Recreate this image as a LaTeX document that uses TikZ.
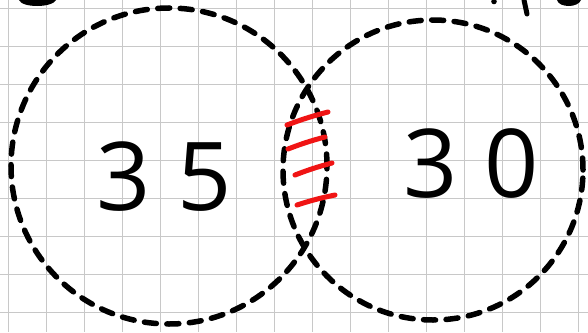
\documentclass[tikz,border=0pt]{standalone}
\usepackage{fontspec}
\usetikzlibrary{positioning}
\newfontfamily\handfont[LetterSpace=28]{Open Sans}
\definecolor{GridGray}{HTML}{C8C8C8}
\definecolor{HatchRed}{HTML}{F01414}
\tikzset{
  gridline/.style={draw=GridGray, line width=1.3pt},
  ring/.style={draw=black, circle, inner sep=0pt, line width=5.5pt, line cap=round, dash pattern=on 12pt off 10.5pt},
  numeral/.style={font=\handfont\fontsize{95}{95}\selectfont, inner sep=0pt},
  hatchline/.style={draw=HatchRed, line width=5pt, line cap=round},
  scrap/.style={fill=black}
}

\begin{document}
\begin{tikzpicture}[x=1pt, y=-1pt]
  \useasboundingbox (0,0) rectangle (588,332);
  \fill[white] (0,0) rectangle (588,332);
  % squared paper
  \foreach \k in {0,...,15}
    \draw[gridline] (8.3+38*\k,0) -- (8.3+38*\k,332);
  \foreach \k in {0,...,8}
    \draw[gridline] (0,8.5+38*\k) -- (588,8.5+38*\k);
  % the two sets
  \node[ring, minimum size=316pt] (setA) at (169,166) {};
  \node[ring, minimum size=300pt] (setB) at (433,170) {};
  \node[numeral] (numA) at (164,177) {35};
  \node[numeral] (numB) at (471,164) {30};
  % overlap marks
  \draw[hatchline] (287,125) to[bend left=3] (328,112);
  \draw[hatchline] (288,149) to[bend left=3] (325,137);
  \draw[hatchline] (295,175) to[bend left=3] (332,163);
  \draw[hatchline] (297,205) to[bend left=3] (335,195);
  % cut-off writing at the top
  \fill[scrap] (19,0) .. controls (22,8) and (52,8) .. (56,0) -- cycle;
  \fill[scrap] (494,1.5) circle[radius=2.8pt];
  \draw[black, line width=5pt, line cap=round] (524,0) -- (527,14);
  \fill[scrap] (557,0) .. controls (559,8) and (578,8) .. (581,0) -- cycle;
\end{tikzpicture}
\end{document}
